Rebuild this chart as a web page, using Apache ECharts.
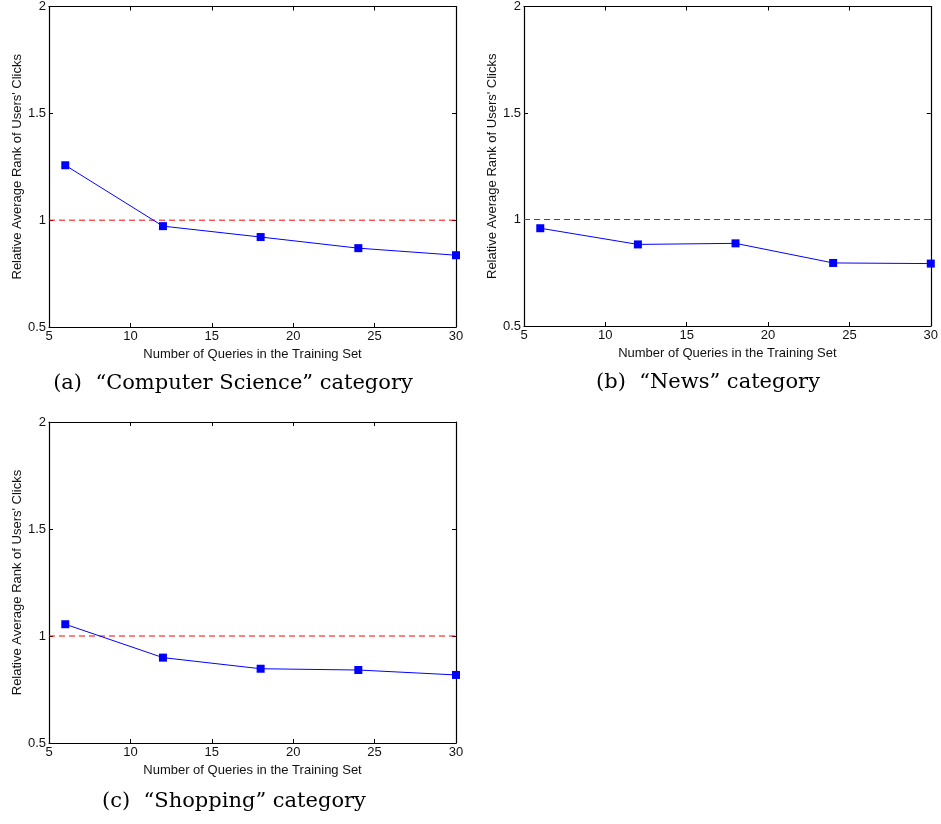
<!DOCTYPE html>
<html>
<head>
<meta charset="utf-8">
<script src="https://cdn.jsdelivr.net/npm/echarts@6/dist/echarts.min.js"></script>
<style>
  html, body { margin: 0; padding: 0; background: #fff; }
  #main { width: 941px; height: 824px; }
</style>
</head>
<body>
<div id="main"></div>
<script>
// data
var queries = [6, 12, 18, 24, 30];
var csRank = [1.257, 0.972, 0.921, 0.869, 0.836];
var newsRank = [0.959, 0.883, 0.888, 0.796, 0.793];
var shoppingRank = [1.055, 0.899, 0.847, 0.841, 0.818];
var baselineX = [5, 30];
var baselineY = [1, 1];
var captions = ['(a)  \u201cComputer Science\u201d category', '(b)  \u201cNews\u201d category', '(c)  \u201cShopping\u201d category'];
var xName = 'Number of Queries in the Training Set';
var yName = 'Relative Average Rank of Users\' Clicks';

var panels = [
  { grid: { left: 49, top: 6, width: 407, height: 321 }, values: csRank, cap: [233, 384] },
  { grid: { left: 524, top: 5, width: 407, height: 321 }, values: newsRank, cap: [708, 383] },
  { grid: { left: 49, top: 422, width: 407, height: 321 }, values: shoppingRank, cap: [234, 802] }
];

var sans = 'Liberation Sans, Arial, sans-serif';
var grids = [], xAxes = [], yAxes = [], series = [], graphics = [];

function pairs(xs, ys){
  return xs.map(function(x, i){ return [x, ys[i]]; });
}

panels.forEach(function(p, i){
  grids.push(p.grid);
  var lineStyle = { color: '#000', width: 1.2 };
  var tick = { show: true, inside: true, length: 4, lineStyle: { color: '#000' } };
  xAxes.push({
    type: 'value', gridIndex: i, min: 5, max: 30, interval: 5, position: 'bottom',
    name: xName, nameLocation: 'middle', nameGap: 21,
    nameTextStyle: { fontFamily: sans, fontSize: 13, color: '#111' },
    axisLine: { lineStyle: lineStyle }, axisTick: tick,
    axisLabel: { fontFamily: sans, fontSize: 13, color: '#111', margin: 3 },
    splitLine: { show: false }
  });
  xAxes.push({
    type: 'value', gridIndex: i, min: 5, max: 30, interval: 5, position: 'top',
    axisLine: { lineStyle: lineStyle }, axisTick: tick,
    axisLabel: { show: false }, splitLine: { show: false }
  });
  yAxes.push({
    type: 'value', gridIndex: i, min: 0.5, max: 2, interval: 0.5, position: 'left',
    name: yName, nameLocation: 'middle', nameGap: 25,
    nameTextStyle: { fontFamily: sans, fontSize: 13, color: '#111' },
    axisLine: { show: true, lineStyle: lineStyle }, axisTick: tick,
    axisLabel: { fontFamily: sans, fontSize: 13, color: '#111', margin: 3 },
    splitLine: { show: false }
  });
  yAxes.push({
    type: 'value', gridIndex: i, min: 0.5, max: 2, interval: 0.5, position: 'right',
    axisLine: { show: true, lineStyle: lineStyle }, axisTick: tick,
    axisLabel: { show: false }, splitLine: { show: false }
  });
  series.push({
    type: 'line', xAxisIndex: 2 * i, yAxisIndex: 2 * i,
    data: pairs(baselineX, baselineY), symbol: 'none', silent: true,
    lineStyle: { color: '#ff0000', width: 1, type: [6, 4] }
  });
  series.push({
    type: 'line', xAxisIndex: 2 * i, yAxisIndex: 2 * i,
    data: pairs(queries, p.values), symbol: 'rect', symbolSize: 8,
    itemStyle: { color: '#0000ff' },
    lineStyle: { color: '#0000ff', width: 1 }
  });
  graphics.push({
    type: 'text', x: p.cap[0], y: p.cap[1],
    style: {
      text: captions[i], fill: '#000', align: 'center', verticalAlign: 'middle',
      font: '21px "DejaVu Serif", serif'
    }
  });
});

var chartDom = document.getElementById('main');
var myChart = echarts.init(chartDom);
var option = {
  animation: false,
  grid: grids,
  xAxis: xAxes,
  yAxis: yAxes,
  series: series,
  graphic: graphics
};
myChart.setOption(option);
</script>
</body>
</html>
